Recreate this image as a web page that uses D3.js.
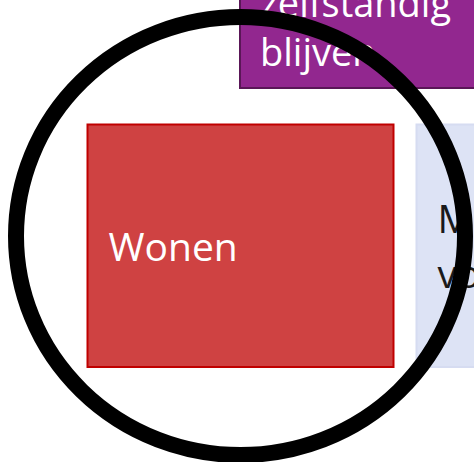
<!DOCTYPE html>
<html>
<head>
<meta charset="utf-8">
<script src="https://cdn.jsdelivr.net/npm/d3@7"></script>
<style>
  html, body { margin: 0; padding: 0; background: #fff; overflow: hidden; }
  svg { display: block; }
</style>
</head>
<body>
<svg id="chart"></svg>
<script>
// boxes of the diagram (lines of text per box)
const topLabel = ["zelfstandig", "blijven"];
const rowCategories = ["Wonen", "Mobiliteit"];
const rowLabels = [["Wonen"], ["Mobiliteit en", "voorzieningen"]];

document.addEventListener("DOMContentLoaded", function () {
    const width = 474, height = 462;
    const font = "'Open Sans', 'Noto Sans', sans-serif";

    const svg = d3.select("#chart")
        .attr("width", width)
        .attr("height", height);

    // bottom row of boxes
    const x = d3.scaleBand()
        .domain(rowCategories)
        .range([87.5, 722.5])
        .paddingInner(23 / 329);

    const rowTop = 124.5, rowBottom = 367;
    const fills = ["#cf4242", "#dde3f5"];
    const strokes = ["#c00000", "#d6dcf1"];
    const textColors = ["#ffffff", "#1a1a1a"];
    const lineHeights = [49, 55];

    const rows = svg.selectAll("g.row")
        .data(rowCategories)
        .enter()
        .append("g")
        .attr("class", "row");

    rows.append("rect")
        .attr("x", d => x(d))
        .attr("y", rowTop)
        .attr("width", x.bandwidth())
        .attr("height", rowBottom - rowTop)
        .attr("fill", (_, i) => fills[i])
        .attr("stroke", (_, i) => strokes[i])
        .attr("stroke-width", 2);

    rows.each(function (d, i) {
        const lines = rowLabels[i];
        const lh = lineHeights[i];
        const mid = (rowTop + rowBottom) / 2 + 15;
        const first = mid - (lines.length - 1) * lh / 2;
        d3.select(this).selectAll("text")
            .data(lines)
            .enter()
            .append("text")
            .attr("x", x(d) + 21)
            .attr("y", (_, j) => first + j * lh)
            .attr("fill", textColors[i])
            .style("font-family", font)
            .style("font-size", "39px")
            .text(t => t);
    });

    // top purple box (cut off by the frame)
    svg.append("rect")
        .attr("x", 240)
        .attr("y", -80)
        .attr("width", 320)
        .attr("height", 168)
        .attr("fill", "#92278f")
        .attr("stroke", "#5a1657")
        .attr("stroke-width", 2);

    svg.selectAll("text.top")
        .data(topLabel)
        .enter()
        .append("text")
        .attr("class", "top")
        .attr("x", 260)
        .attr("y", (_, j) => 17 + j * 49)
        .attr("fill", "#ffffff")
        .style("font-family", font)
        .style("font-size", "38px")
        .text(t => t);

    // black ring on top
    svg.append("ellipse")
        .attr("cx", 240.5)
        .attr("cy", 236)
        .attr("rx", 224.5)
        .attr("ry", 219)
        .attr("fill", "none")
        .attr("stroke", "#000")
        .attr("stroke-width", 16);
});
</script>
</body>
</html>
